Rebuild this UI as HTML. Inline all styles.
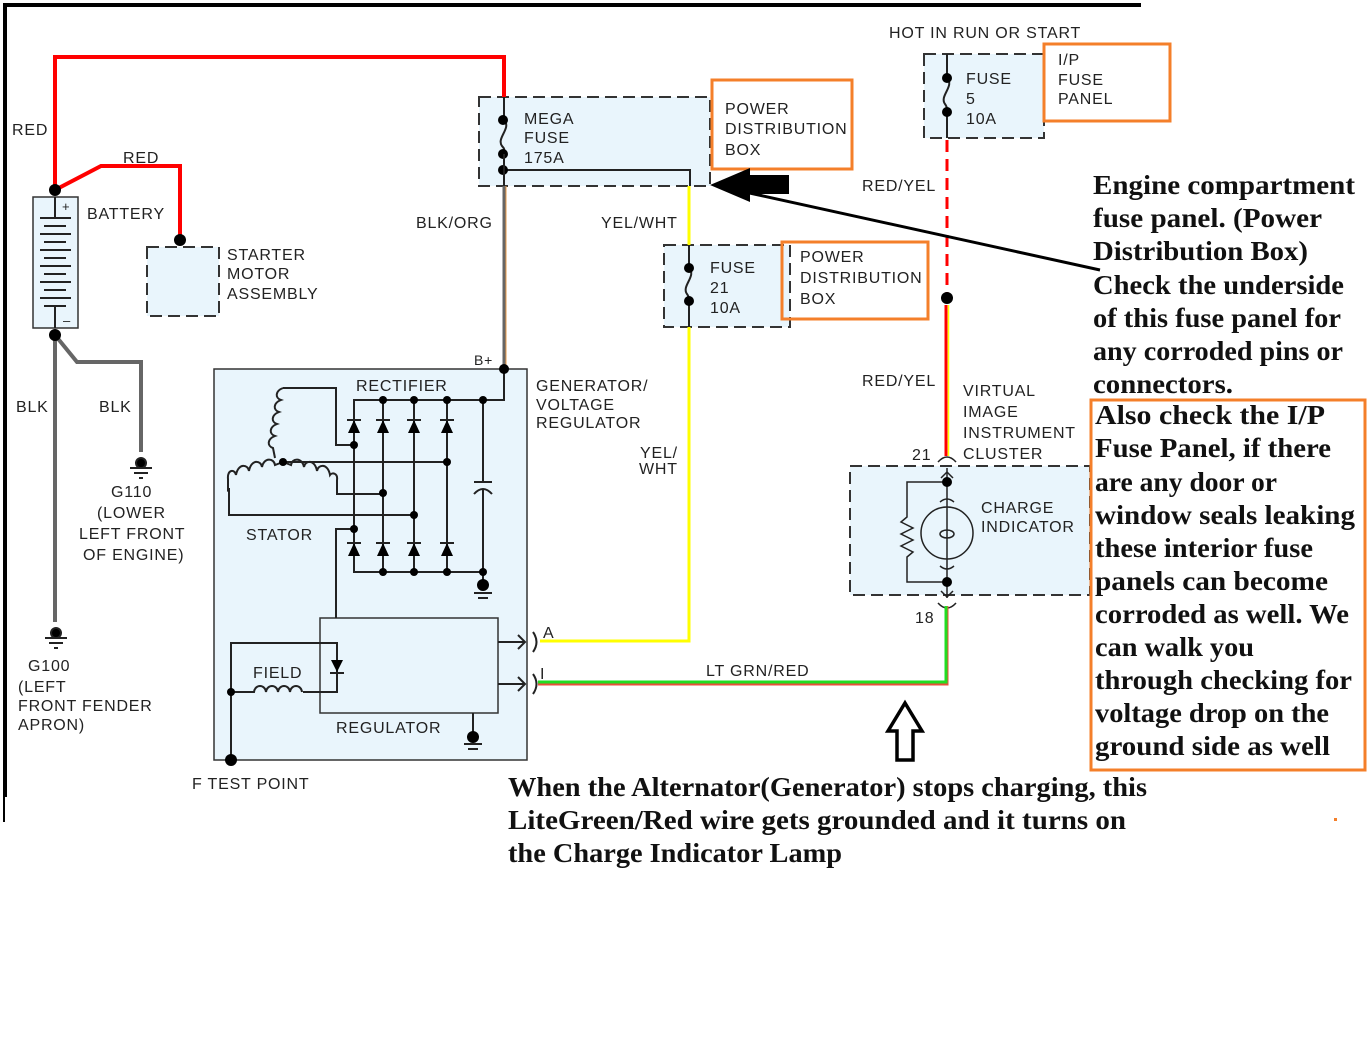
<!DOCTYPE html>
<html><head><meta charset="utf-8"><style>
html,body{margin:0;padding:0;background:#fff}
svg{display:block}
.s{font-family:"Liberation Sans",sans-serif;font-size:16px;fill:#222;letter-spacing:0.8px}
.r{font-family:"Liberation Serif",serif;font-size:27px;font-weight:bold;fill:#111}
</style></head><body>
<svg width="1367" height="1054" viewBox="0 0 1367 1054" xmlns="http://www.w3.org/2000/svg">
<rect width="1367" height="1054" fill="#fff"/>
<line x1="3" y1="5" x2="1141" y2="5" stroke="#000" stroke-width="4"/>
<line x1="5" y1="4" x2="5" y2="797" stroke="#000" stroke-width="4"/>
<line x1="4" y1="797" x2="4" y2="822" stroke="#000" stroke-width="2"/>

<g fill="#e9f5fc" stroke="#333" stroke-width="2" stroke-dasharray="12,6">
<rect x="147" y="247" width="72" height="69"/>
<rect x="479" y="97" width="231" height="89"/>
<rect x="664" y="245" width="126" height="82"/>
<rect x="924" y="54" width="120" height="84"/>
<rect x="850" y="466" width="240" height="129"/>
</g>
<rect x="214" y="369" width="313" height="391" fill="#e9f5fc" stroke="#333" stroke-width="1.5"/>
<rect x="320" y="618" width="178" height="95" fill="#e9f5fc" stroke="#333" stroke-width="1.5"/>
<rect x="33" y="197" width="45" height="131" fill="#e9f5fc" stroke="#333" stroke-width="1.5"/>

<g stroke="#222" stroke-width="2">
<line x1="55" y1="197" x2="55" y2="218"/><line x1="40" y1="218" x2="71" y2="218"/>
<line x1="44" y1="226" x2="66" y2="226"/><line x1="40" y1="234" x2="71" y2="234"/>
<line x1="44" y1="242" x2="66" y2="242"/><line x1="40" y1="250" x2="71" y2="250"/>
<line x1="44" y1="258" x2="66" y2="258"/><line x1="40" y1="266" x2="71" y2="266"/>
<line x1="44" y1="274" x2="66" y2="274"/><line x1="40" y1="282" x2="71" y2="282"/>
<line x1="44" y1="290" x2="66" y2="290"/><line x1="40" y1="298" x2="71" y2="298"/>
<line x1="44" y1="306" x2="66" y2="306"/><line x1="55" y1="306" x2="55" y2="328"/>
</g>
<text x="62" y="211" class="s" style="font-size:13px">+</text>
<text x="63" y="325" class="s" style="font-size:13px">–</text>

<polyline points="55,190 55,57 504,57 504,97" fill="none" stroke="#f00" stroke-width="4"/>
<polyline points="55,190 101,166 180,166 180,240" fill="none" stroke="#f00" stroke-width="4"/>
<circle cx="55" cy="190" r="6" fill="#000"/><circle cx="180" cy="240" r="6" fill="#000"/>

<g fill="none" stroke="#666" stroke-width="4">
<line x1="55" y1="335" x2="55" y2="622"/>
<polyline points="55,335 77,362 141,362 141,452"/>
</g>
<circle cx="55" cy="335" r="6" fill="#000"/>
<g stroke="#222" stroke-width="2">
<circle cx="141" cy="463" r="5" fill="#000"/><line x1="130" y1="468" x2="152" y2="468"/><line x1="134" y1="473" x2="148" y2="473"/><line x1="139" y1="478" x2="143" y2="478"/>
<circle cx="56" cy="633" r="5" fill="#000"/><line x1="45" y1="638" x2="67" y2="638"/><line x1="49" y1="643" x2="63" y2="643"/><line x1="54" y1="648" x2="58" y2="648"/>
</g>

<g stroke="#222" stroke-width="2" fill="none">
<line x1="504" y1="97" x2="504" y2="120"/>
<path d="M504,120 C512,128 496,138 502,146 C506,150 504,152 504,154"/>
<polyline points="504,170 690,170 690,186"/>
</g>
<circle cx="503" cy="120" r="5" fill="#000"/><circle cx="503" cy="154" r="5" fill="#000"/><circle cx="503" cy="170" r="5" fill="#000"/>
<line x1="504" y1="154" x2="504" y2="186" stroke="#222" stroke-width="2"/>
<line x1="504" y1="186" x2="504" y2="369" stroke="#666" stroke-width="3"/>
<line x1="506" y1="186" x2="506" y2="369" stroke="#e89b4a" stroke-width="1"/>

<polyline points="689,186 689,245" fill="none" stroke="#ff0" stroke-width="3"/>
<polyline points="689,327 689,641 540,641" fill="none" stroke="#ff0" stroke-width="3"/>
<g stroke="#222" stroke-width="2" fill="none">
<line x1="689" y1="245" x2="689" y2="268"/>
<path d="M689,268 C697,276 681,286 687,294 C690,298 689,300 689,301"/>
<line x1="689" y1="301" x2="689" y2="327"/>
</g>
<circle cx="689" cy="268" r="5" fill="#000"/><circle cx="689" cy="301" r="5" fill="#000"/>

<g stroke="#222" stroke-width="2" fill="none">
<line x1="947" y1="54" x2="947" y2="78"/>
<path d="M947,78 C955,86 939,96 945,104 C948,108 947,110 947,112"/>
<line x1="947" y1="112" x2="947" y2="138"/>
</g>
<circle cx="947" cy="78" r="5" fill="#000"/><circle cx="947" cy="112" r="5" fill="#000"/>
<line x1="947" y1="140" x2="947" y2="296" stroke="#f00" stroke-width="3" stroke-dasharray="12,7"/>
<circle cx="947" cy="298" r="6" fill="#000"/>
<line x1="946" y1="305" x2="946" y2="456" stroke="#f00" stroke-width="3"/>
<line x1="948.5" y1="305" x2="948.5" y2="456" stroke="#ff0" stroke-width="1.5"/>

<g stroke="#222" stroke-width="1.5" fill="none">
<path d="M938,462 Q947,452 956,462"/>
<path d="M938,603 Q947,613 956,603"/>
<line x1="947" y1="468" x2="947" y2="598"/>
<polyline points="941,478 947,472 953,478"/><polyline points="941,591 947,597 953,591"/>
<polyline points="947,482 907,482 907,517 901,522 913,528 901,534 913,540 901,546 913,552 907,557 907,582 947,582"/>
<circle cx="947" cy="533" r="26" fill="#e9f5fc"/>
<line x1="947" y1="507" x2="947" y2="559"/>
<ellipse cx="947" cy="534" rx="7" ry="4"/>
<path d="M940,502 Q947,496 954,502"/><path d="M940,566 Q947,572 954,566"/>
</g>
<circle cx="947" cy="482" r="5" fill="#000"/><circle cx="947" cy="582" r="5" fill="#000"/>

<polyline points="947,606 947,684 538,684" fill="none" stroke="#e8503a" stroke-width="3"/>
<polyline points="946,606 946,682 538,682" fill="none" stroke="#2d2" stroke-width="3"/>

<g stroke="#222" stroke-width="2" fill="none">
<polyline points="504,369 504,400 354,400 354,572 483,572"/>
<line x1="383" y1="400" x2="383" y2="572"/><line x1="414" y1="400" x2="414" y2="572"/><line x1="447" y1="400" x2="447" y2="572"/>
<line x1="483" y1="400" x2="483" y2="482"/><line x1="483" y1="490" x2="483" y2="580"/>
<line x1="474" y1="482" x2="492" y2="482"/><path d="M474,494 Q483,484 492,494"/>
<polyline points="283,388 336,388 336,445 354,445"/>
<path d="M283,388 c-8,3 -8,10 -2,12 c-8,3 -8,10 -2,12 c-8,3 -8,10 -2,12 c-8,3 -8,10 -2,12 c-8,3 -8,10 -2,12 l2,10"/>
<line x1="283" y1="462" x2="447" y2="462"/>
<path d="M283,462 l-8,3 c-1,-7 -11,-8 -13,2 c-1,-7 -11,-8 -13,4 c-1,-7 -11,-8 -13,4 c-1,-6 -9,-6 -8,4 l0,11 c0,2 0,0 0,0"/>
<polyline points="229,488 229,515 414,515"/>
<path d="M283,462 l8,3 c1,-7 11,-8 13,2 c1,-7 11,-8 13,4 c1,-7 11,-8 13,4 c2,-3 8,-2 7,5 l0,14 l46,0"/>
<polyline points="354,529 336,529 336,618"/>
<polyline points="231,760 231,643 337,643 337,692 303,692"/>
<path d="M231,692 l23,0 c1,-8 11,-8 12,0 c1,-8 11,-8 12,0 c1,-8 11,-8 12,0 c1,-8 11,-8 12,0"/>
<line x1="473" y1="713" x2="473" y2="735"/>
<line x1="498" y1="642" x2="525" y2="642"/><polyline points="518,635 525,642 518,649"/>
<line x1="498" y1="684" x2="525" y2="684"/><polyline points="518,677 525,684 518,691"/>
<path d="M533,632 q7,10 0,20"/><path d="M533,674 q7,10 0,20"/>
</g>
<g fill="#000">
<polygon points="348,433 360,433 354,420"/><polygon points="377,433 389,433 383,420"/><polygon points="408,433 420,433 414,420"/><polygon points="441,433 453,433 447,420"/>
<polygon points="348,556 360,556 354,543"/><polygon points="377,556 389,556 383,543"/><polygon points="408,556 420,556 414,543"/><polygon points="441,556 453,556 447,543"/>
<polygon points="331,660 343,660 337,672"/>
</g>
<g stroke="#222" stroke-width="2">
<line x1="347" y1="420" x2="361" y2="420"/><line x1="376" y1="420" x2="390" y2="420"/><line x1="407" y1="420" x2="421" y2="420"/><line x1="440" y1="420" x2="454" y2="420"/>
<line x1="347" y1="543" x2="361" y2="543"/><line x1="376" y1="543" x2="390" y2="543"/><line x1="407" y1="543" x2="421" y2="543"/><line x1="440" y1="543" x2="454" y2="543"/>
<line x1="330" y1="673" x2="344" y2="673"/>
<line x1="474" y1="593" x2="492" y2="593"/><line x1="478" y1="598" x2="488" y2="598"/>
<line x1="464" y1="744" x2="482" y2="744"/><line x1="468" y1="749" x2="478" y2="749"/>
</g>
<g fill="#000">
<circle cx="504" cy="369" r="5"/>
<circle cx="383" cy="400" r="4"/><circle cx="414" cy="400" r="4"/><circle cx="447" cy="400" r="4"/><circle cx="483" cy="400" r="4"/>
<circle cx="383" cy="572" r="4"/><circle cx="414" cy="572" r="4"/><circle cx="447" cy="572" r="4"/><circle cx="483" cy="572" r="4"/>
<circle cx="354" cy="445" r="4"/><circle cx="283" cy="462" r="4"/><circle cx="447" cy="462" r="4"/><circle cx="383" cy="493" r="4"/><circle cx="414" cy="515" r="4"/><circle cx="354" cy="529" r="4"/>
<circle cx="483" cy="585" r="6"/><circle cx="473" cy="737" r="6"/>
<circle cx="231" cy="692" r="4"/><circle cx="231" cy="760" r="6"/>
</g>

<g fill="none" stroke="#f47f2a" stroke-width="3">
<rect x="712" y="80" width="140" height="89"/>
<rect x="782" y="242" width="146" height="77"/>
<rect x="1044" y="44" width="126" height="77"/>
<rect x="1091" y="400" width="274" height="370"/>
</g>
<rect x="1334" y="818" width="3" height="3" fill="#f47f2a"/>

<polygon points="710,185 750,168 750,175 789,175 789,194 750,194 750,202" fill="#000"/>
<line x1="745" y1="192" x2="1100" y2="270" stroke="#000" stroke-width="3"/>
<polygon points="905,703 922,731 913,731 913,760 897,760 897,731 888,731" fill="#fff" stroke="#000" stroke-width="3.5"/>

<g class="s">
<text x="12" y="135">RED</text>
<text x="123" y="163">RED</text>
<text x="87" y="219">BATTERY</text>
<text x="227" y="260">STARTER</text><text x="227" y="279">MOTOR</text><text x="227" y="299">ASSEMBLY</text>
<text x="16" y="412">BLK</text><text x="99" y="412">BLK</text>
<text x="111" y="497">G110</text><text x="97" y="518">(LOWER</text><text x="79" y="539">LEFT FRONT</text><text x="83" y="560">OF ENGINE)</text>
<text x="28" y="671">G100</text><text x="18" y="692">(LEFT</text><text x="18" y="711">FRONT FENDER</text><text x="18" y="730">APRON)</text>
<text x="416" y="228">BLK/ORG</text>
<text x="524" y="124">MEGA</text><text x="524" y="143">FUSE</text><text x="524" y="163">175A</text>
<text x="725" y="114">POWER</text><text x="725" y="134">DISTRIBUTION</text><text x="725" y="155">BOX</text>
<text x="601" y="228">YEL/WHT</text>
<text x="710" y="273">FUSE</text><text x="710" y="293">21</text><text x="710" y="313">10A</text>
<text x="800" y="262">POWER</text><text x="800" y="283">DISTRIBUTION</text><text x="800" y="304">BOX</text>
<text x="889" y="38">HOT IN RUN OR START</text>
<text x="966" y="84">FUSE</text><text x="966" y="104">5</text><text x="966" y="124">10A</text>
<text x="1058" y="65">I/P</text><text x="1058" y="85">FUSE</text><text x="1058" y="104">PANEL</text>
<text x="862" y="191">RED/YEL</text>
<text x="862" y="386">RED/YEL</text>
<text x="963" y="396">VIRTUAL</text><text x="963" y="417">IMAGE</text><text x="963" y="438">INSTRUMENT</text><text x="963" y="459">CLUSTER</text>
<text x="912" y="460">21</text>
<text x="981" y="513">CHARGE</text><text x="981" y="532">INDICATOR</text>
<text x="915" y="623">18</text>
<text x="474" y="365" style="font-size:14px">B+</text>
<text x="356" y="391">RECTIFIER</text>
<text x="536" y="391">GENERATOR/</text><text x="536" y="410">VOLTAGE</text><text x="536" y="428">REGULATOR</text>
<text x="246" y="540">STATOR</text>
<text x="640" y="458">YEL/</text><text x="639" y="474">WHT</text>
<text x="253" y="678">FIELD</text>
<text x="336" y="733">REGULATOR</text>
<text x="543" y="638">A</text><text x="540" y="679">I</text>
<text x="706" y="676">LT GRN/RED</text>
<text x="192" y="789">F TEST POINT</text>
</g>
<g class="r">
<text x="1093" y="194" textLength="262" lengthAdjust="spacingAndGlyphs">Engine compartment</text>
<text x="1093" y="227" textLength="229" lengthAdjust="spacingAndGlyphs">fuse panel. (Power</text>
<text x="1093" y="260" textLength="215" lengthAdjust="spacingAndGlyphs">Distribution Box)</text>
<text x="1093" y="294" textLength="251" lengthAdjust="spacingAndGlyphs">Check the underside</text>
<text x="1093" y="327" textLength="248" lengthAdjust="spacingAndGlyphs">of this fuse panel for</text>
<text x="1093" y="360" textLength="250" lengthAdjust="spacingAndGlyphs">any corroded pins or</text>
<text x="1093" y="393" textLength="140" lengthAdjust="spacingAndGlyphs">connectors.</text>
<text x="1095" y="424" textLength="230" lengthAdjust="spacingAndGlyphs">Also check the I/P</text>
<text x="1095" y="457" textLength="236" lengthAdjust="spacingAndGlyphs">Fuse Panel, if there</text>
<text x="1095" y="491" textLength="182" lengthAdjust="spacingAndGlyphs">are any door or</text>
<text x="1095" y="524" textLength="260" lengthAdjust="spacingAndGlyphs">window seals leaking</text>
<text x="1095" y="557" textLength="218" lengthAdjust="spacingAndGlyphs">these interior fuse</text>
<text x="1095" y="590" textLength="233" lengthAdjust="spacingAndGlyphs">panels can become</text>
<text x="1095" y="623" textLength="254" lengthAdjust="spacingAndGlyphs">corroded as well. We</text>
<text x="1095" y="656" textLength="159" lengthAdjust="spacingAndGlyphs">can walk you</text>
<text x="1095" y="689" textLength="257" lengthAdjust="spacingAndGlyphs">through checking for</text>
<text x="1095" y="722" textLength="234" lengthAdjust="spacingAndGlyphs">voltage drop on the</text>
<text x="1095" y="755" textLength="235" lengthAdjust="spacingAndGlyphs">ground side as well</text>
<text x="508" y="796" textLength="639" lengthAdjust="spacingAndGlyphs">When the Alternator(Generator) stops charging, this</text>
<text x="508" y="829" textLength="618" lengthAdjust="spacingAndGlyphs">LiteGreen/Red wire gets grounded and it turns on</text>
<text x="508" y="862" textLength="334" lengthAdjust="spacingAndGlyphs">the Charge Indicator Lamp</text>
</g>
</svg>
</body></html>
